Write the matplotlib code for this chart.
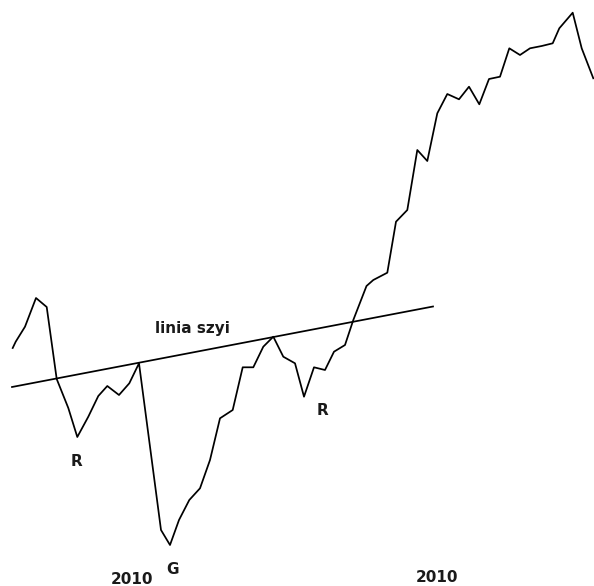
import matplotlib
matplotlib.use("Agg")
import matplotlib.pyplot as plt

# price path (time in arbitrary units, value up)
t = [12.7, 15.7, 25, 36, 46.7, 56.7, 68.3, 77.3, 88.3, 98.3, 107.3, 119, 129.3, 139,
     161, 170, 179, 189.3, 200, 210, 220, 232.7, 242.7, 253.3, 263.3, 273.3, 283.3,
     295, 304, 314, 325, 334, 345, 353.3, 366.5, 373.3, 387.3, 396, 407.3, 417.3,
     427.3, 437.3, 447.3, 459, 469, 479.3, 489, 500, 509.3, 520, 530, 541.7, 552.7,
     559.3, 572.7, 581.7, 593.3]
y_px = [348, 341.7, 326.7, 298, 307, 379, 408, 437, 416.7, 396, 386, 395, 383.3, 363.3,
        530, 545, 520, 500, 488.3, 460, 418.3, 410, 367.3, 367.3, 346.7, 336.7, 356.7,
        363.3, 396.7, 367.3, 370, 351.7, 345, 320, 286, 280, 272.7, 221.7, 210, 150,
        161, 113.3, 94, 99.3, 86.7, 104.3, 79, 76.7, 48.3, 55, 48.3, 46, 43.3,
        28.3, 12.7, 48.3, 78.3]
H = 586
price = [H - v for v in y_px]

# neckline ("linia szyi")
neck_t = [12, 433]
neck_v = [H - 387, H - 306.5]

# text, x centre, baseline
labels = [("linia szyi", 192, H - 333),
          ("R", 76, H - 465.5),
          ("G", 172.5, H - 574),
          ("R", 322.5, H - 415),
          ("2010", 132, H - 584.5),
          ("2010", 437, H - 582.5)]

fig = plt.figure(figsize=(5.94, 5.86), dpi=100)
ax = fig.add_axes([0, 0, 1, 1])
ax.plot(t, price, color="black", lw=1.25)
ax.plot(neck_t, neck_v, color="black", lw=1.25)
for txt, x, y in labels:
    ax.text(x, y, txt, ha="center", va="baseline", fontsize=11,
            fontweight="bold", color="#1a1a1a", family="DejaVu Sans")
ax.set_xlim(0, 594)
ax.set_ylim(0, H)
ax.axis("off")
fig.savefig("out.png", dpi=100, facecolor="white")
